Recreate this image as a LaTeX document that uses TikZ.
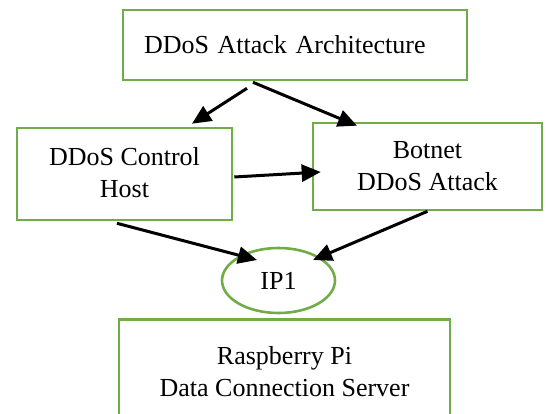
\documentclass[tikz,border=0pt]{standalone}
\usepackage{fontspec}
\setmainfont{Liberation Serif}
\usetikzlibrary{shapes.geometric,arrows.meta,calc}
\definecolor{boxgreen}{HTML}{70AD47}
\tikzset{
  box/.style={draw=boxgreen, line width=2.6pt, rectangle, inner sep=0pt, align=center,
    font=\fontsize{26}{32}\selectfont},
  oval/.style={draw=boxgreen, line width=2.6pt, ellipse, inner sep=0pt,
    font=\fontsize{26}{32}\selectfont},
  arr/.style={line width=3pt, -{Triangle[length=19pt,width=17pt]}}
}
\begin{document}
\begin{tikzpicture}[x=1pt,y=-1pt]
\clip (0,0) rectangle (546,414);
\fill[white] (0,0) rectangle (546,414);
\node[box, align=left, text width=302pt, inner xsep=21pt, minimum height=70pt] (top) at (295,45) {DDoS Attack Architecture};
\node[box, minimum width=215pt, minimum height=92pt, text depth=4pt] (ctrl) at (124.5,174) {DDoS Control\\Host};
\node[box, minimum width=229pt, minimum height=87pt] (bot) at (427.5,166.5) {Botnet\\DDoS Attack};
\node[oval, minimum width=113pt, minimum height=65pt] (ip) at (278.5,280.5) {IP1};
\node[box, anchor=north, minimum width=331pt, minimum height=110pt, text depth=6pt] (rpi) at (284.5,318) {Raspberry Pi\\Data Connection Server};
\draw[arr] ($(top.south)+(-48,7)$) -- ($(ctrl.north)+(67.5,-3)$);
\draw[arr] ($(top.south)+(-42,1)$) -- ($(bot.north)+(-70.5,4)$);
\draw[arr] ($(ctrl.east)+(1,3)$) -- ($(bot.west)+(9,5.5)$);
\draw[arr] ($(ctrl.south)+(-7.5,2)$) -- ($(ip.center)+(-21.5,-20.5)$);
\draw[arr] ($(bot.south)+(0,0)$) -- ($(ip.center)+(34.5,-20.5)$);
\end{tikzpicture}
\end{document}
